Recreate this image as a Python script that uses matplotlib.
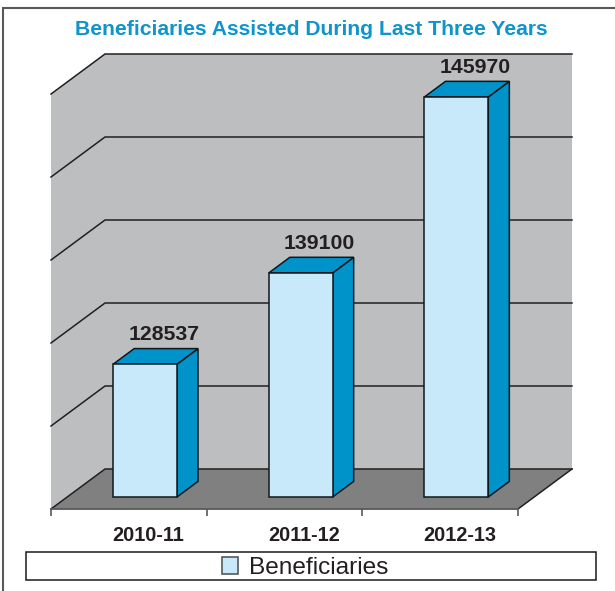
import matplotlib
matplotlib.use("Agg")
import matplotlib.pyplot as plt
from matplotlib.lines import Line2D
from matplotlib.patches import Patch, Polygon, Rectangle

plt.rcParams['font.family'] = ['Liberation Sans', 'DejaVu Sans']

years = ['2010-11', '2011-12', '2012-13']
beneficiaries = [128537, 139100, 145970]
# the bars in the source are not in proportion to their labels,
# so the drawn heights are read separately, in gridline steps
bar_heights = [1.60, 2.70, 4.82]
grid_levels = [0, 1, 2, 3, 4, 5]
series_name = 'Beneficiaries'
title = 'Beneficiaries Assisted During Last Three Years'

BLUE = '#0093c9'
LIGHT = '#c8e9fa'
WALL = '#bcbec0'
FLOOR = '#808080'
INK = '#231f20'

# oblique depth of the box, and where the bars sit inside it
depth_x, depth_y = 0.347, 0.482
bar_start = 0.30
bar_depth = 0.39
bar_width = 0.41

fig = plt.figure(figsize=(6.15, 5.91), dpi=100)
ax = fig.add_axes([51/615, (591-509)/591, 521/615, 455/591])
n = len(years)
ax.set_xlim(0, n + depth_x)
ax.set_ylim(0, grid_levels[-1] + depth_y)
for s in ax.spines.values():
    s.set_visible(False)
ax.set_yticks([])

# walls and floor
top = grid_levels[-1]
ax.add_patch(Polygon([(0, 0), (depth_x, depth_y), (depth_x, top + depth_y), (0, top)],
                     fc=WALL, ec='none', zorder=1))
ax.add_patch(Rectangle((depth_x, depth_y), n, top, fc=WALL, ec='none', zorder=1))
ax.add_patch(Polygon([(0, 0), (depth_x, depth_y), (n + depth_x, depth_y), (n, 0)],
                     fc=FLOOR, ec='none', zorder=1))
for g in grid_levels:
    ax.plot([0, depth_x, n + depth_x], [g, g + depth_y, g + depth_y],
            color=INK, lw=1.1, zorder=2, clip_on=False, solid_joinstyle='miter')
ax.plot([n, n + depth_x], [0, depth_y], color=INK, lw=1.1, zorder=2, clip_on=False)
ax.plot([0, n], [0, 0], color='#58595b', lw=1.3, zorder=2, clip_on=False)

# bars
xs = [i + 0.5 + depth_x * bar_start for i in range(n)]
y0 = depth_y * bar_start
dx = depth_x * bar_depth
dy = depth_y * bar_depth
for x, h, v in zip(xs, bar_heights, beneficiaries):
    left, right = x - bar_width / 2, x + bar_width / 2
    y1 = y0 + h
    ax.add_patch(Polygon([(right, y0), (right + dx, y0 + dy), (right + dx, y1 + dy), (right, y1)],
                         fc=BLUE, ec='#10181c', lw=1.1, zorder=3))
    ax.add_patch(Polygon([(left, y1), (left + dx, y1 + dy), (right + dx, y1 + dy), (right, y1)],
                         fc=BLUE, ec='#10181c', lw=1.1, zorder=3))
    ax.text(x + 0.12, y1 + dy + 0.05, str(v), ha='center', va='bottom',
            fontsize=15.3, fontweight='bold', color=INK, zorder=5)
ax.bar(xs, bar_heights, bar_width, bottom=y0, color=LIGHT, edgecolor='#10181c',
       linewidth=1.1, zorder=4)

# category labels sit a little right of the cell centres, ticks on the cell edges
ax.set_xticks([i for i in range(n + 1)], minor=True)
ax.tick_params(axis='x', which='minor', length=5, width=1.2, color='#58595b')
ax.set_xticks([x + 0.02 for x in xs])
ax.set_xticklabels(years, fontsize=14.3, fontweight='bold', color=INK)
ax.tick_params(axis='x', which='major', length=0, pad=12.5)

fig.text(311.5/615, 1 - 29.5/591, title, ha='center', va='center',
         fontsize=15.2, fontweight='bold', color='#0f94cb')

# outer frame runs off the right and bottom of the picture
fig.add_artist(Line2D([3/615, 3/615, 1], [0, 1 - 8/591, 1 - 8/591],
                      color='#58595b', lw=1.5, solid_joinstyle='miter'))

# legend
fig.add_artist(Rectangle((26/615, 1 - 580/591), 570/615, 28/591, fc='white', ec='#1a1a1a',
                         lw=1.1, transform=fig.transFigure))
leg = fig.legend(handles=[Patch(fc=LIGHT, ec='#58595b', lw=1.2, label=series_name)],
                 loc='center', bbox_to_anchor=(305/615, 1 - 568/591), frameon=False,
                 fontsize=17.6, handlelength=0.65, handleheight=0.7, handletextpad=0.45,
                 labelcolor=INK, borderpad=0)

fig.savefig('out.png', dpi=100)
